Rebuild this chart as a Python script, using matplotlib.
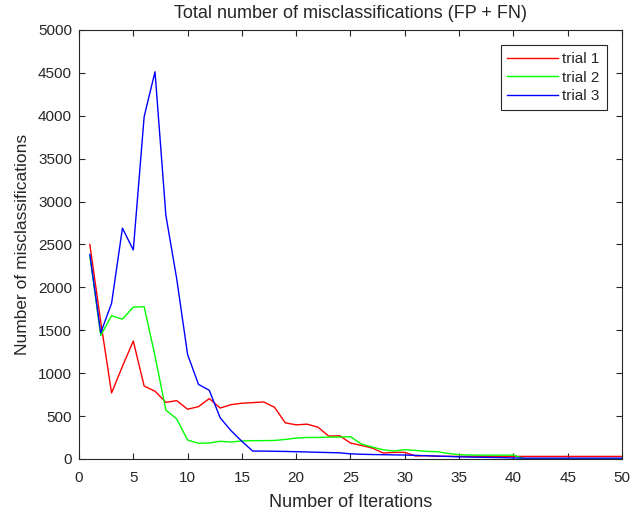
import numpy as np
import matplotlib
matplotlib.use("Agg")
import matplotlib.pyplot as plt

plt.rcParams['font.family'] = ['Liberation Sans', 'DejaVu Sans']

iterations = list(range(1, 51))

trial_1 = [2500, 1600, 770, 1080, 1375, 850, 790, 660, 680, 580,
           610, 704, 594, 633, 650, 657, 665, 603, 421, 398,
           406, 371, 267, 271, 186, 158, 128, 70, 77, 77,
           35, 39, 31, 31, 30, 30, 30, 30, 30, 30,
           30, 30, 30, 30, 30, 30, 30, 30, 30, 30]

trial_2 = [2370, 1440, 1670, 1630, 1770, 1775, 1200, 570, 466, 221,
           183, 186, 206, 198, 210, 214, 214, 216, 228, 244,
           251, 251, 255, 255, 260, 175, 139, 108, 93, 108,
           100, 89, 85, 65, 50, 46, 45, 45, 45, 45,
           3, 3, 3, 3, 3, 3, 3, 3, 3, 3]

trial_3 = [2385, 1470, 1815, 2690, 2436, 3990, 4513, 2840, 2098, 1218,
           870, 800, 480, 330, 206, 92, 92, 90, 88, 85,
           82, 78, 75, 72, 60, 55, 52, 50, 48, 46,
           42, 38, 34, 30, 25, 22, 20, 18, 16, 12,
           10, 10, 10, 10, 10, 10, 10, 10, 10, 10]

text_col = '#262626'

fig = plt.figure(figsize=(6.35, 5.17), dpi=100)
ax = fig.add_axes([0.1244, 0.1122, 0.8551, 0.8298])

ax.plot(iterations, trial_1, color=(1, 0, 0), lw=1.0, label='trial 1')
ax.plot(iterations, trial_2, color=(0, 1, 0), lw=1.0, label='trial 2')
ax.plot(iterations, trial_3, color=(0, 0, 1), lw=1.0, label='trial 3')

ax.set_xlim(0, 50)
ax.set_ylim(0, 5000)
ax.set_xticks(np.arange(0, 51, 5))
ax.set_yticks(np.arange(0, 5001, 500))

ax.tick_params(direction='in', length=4, width=0.8, top=True, right=True,
               colors=text_col, labelsize=11, pad=5)
ax.tick_params(axis='x', pad=9)
for s in ax.spines.values():
    s.set_color(text_col)
    s.set_linewidth(0.8)

ax.set_title('Total number of misclassifications (FP + FN)', fontsize=13, color=text_col, pad=8.5)
ax.set_xlabel('Number of Iterations', fontsize=13, color=text_col, labelpad=6)
ax.set_ylabel('Number of misclassifications', fontsize=12.5, color=text_col, labelpad=6)

leg = ax.legend(loc='upper right', fontsize=11, fancybox=False, framealpha=1,
                edgecolor=text_col, handlelength=3.3, handletextpad=0.3,
                borderpad=0.45, labelspacing=0.3, borderaxespad=1.0)
leg.get_frame().set_linewidth(0.8)
for t in leg.get_texts():
    t.set_color(text_col)

fig.savefig('out.png', dpi=100)
